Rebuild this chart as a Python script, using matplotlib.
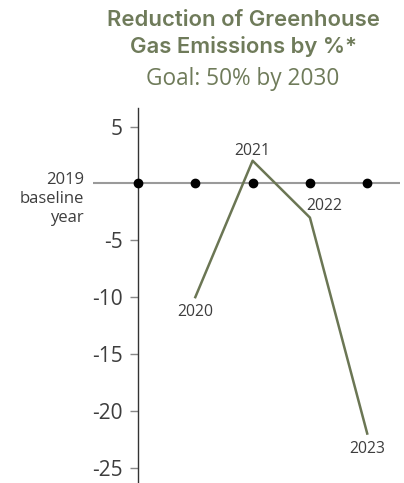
import matplotlib
matplotlib.use("Agg")
import matplotlib.pyplot as plt

# Emissions change vs the 2019 baseline (%)
years = ["2019", "2020", "2021", "2022", "2023"]
change = [0, -10, 2, -3, -22]
yticks = [5, -5, -10, -15, -20, -25]

green = "#6b7654"
title_green = "#6f7b5a"
text_col = "#3d3d3d"

plt.rcParams["font.family"] = ["Open Sans", "DejaVu Sans"]

W, H = 404, 483
fig = plt.figure(figsize=(W / 100, H / 100), dpi=100)
ax = fig.add_axes([93 / W, 0, 307 / W, 375 / H])

x = list(range(len(years)))

# grey baseline with year markers
ax.axhline(0, color="#9a9a9a", lw=1.5, zorder=1)
ax.plot(x, [0] * len(x), "o", color="black", ms=6, zorder=3, clip_on=False)

# emissions line, starting from 2020
ax.plot(x[1:], change[1:], color=green, lw=1.8, zorder=2)

offsets = {"2020": (0, -19), "2021": (0, 6), "2022": (14, 8), "2023": (0, -19)}
for xi, yi, yr in zip(x[1:], change[1:], years[1:]):
    ax.annotate(yr, (xi, yi), xytext=offsets[yr], textcoords="offset pixels",
                ha="center", va="baseline", fontsize=11.3, color=text_col)

ax.set_xlim(-0.785, 4.572)
ax.set_ylim(-26.35, 6.64)

for s in ["top", "right", "bottom"]:
    ax.spines[s].set_visible(False)
ax.spines["left"].set_position(("data", 0))
ax.spines["left"].set_color("#333333")
ax.spines["left"].set_linewidth(1.0)
ax.set_xticks([])
ax.set_yticks(yticks)
ax.set_yticklabels([str(t) for t in yticks])
ax.tick_params(axis="y", length=6, width=1, color="#888888", pad=5,
               labelsize=15, labelcolor=text_col)

# baseline label, one row at a time
for row, y_px in zip(["2019", "baseline", "year"], [184, 203, 222]):
    fig.text(84 / W, 1 - y_px / H, row, ha="right", va="baseline",
             fontsize=12, color=text_col)

title_font = ["Inter", "Open Sans", "DejaVu Sans"]
fig.text(243 / W, 1 - 25.7 / H, "Reduction of Greenhouse", ha="center",
         va="baseline", fontsize=15.9, fontweight="semibold", family=title_font,
         color=title_green)
fig.text(243 / W, 1 - 52.7 / H, "Gas Emissions by %*", ha="center",
         va="baseline", fontsize=15.9, fontweight="semibold", family=title_font,
         color=title_green)
fig.text(243 / W, 1 - 85 / H, "Goal: 50% by 2030", ha="center",
         va="baseline", fontsize=16.3, color=title_green)

fig.savefig("out.png", dpi=100)
